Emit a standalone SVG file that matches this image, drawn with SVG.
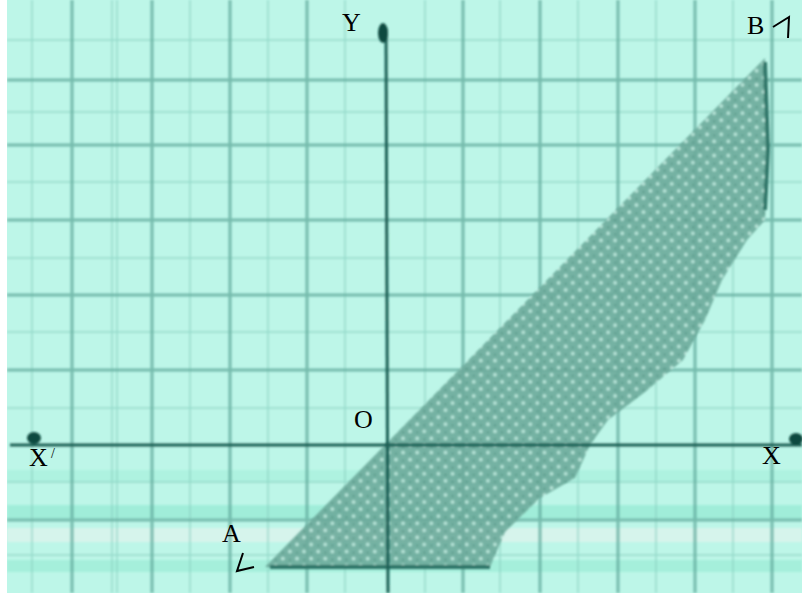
<svg xmlns="http://www.w3.org/2000/svg" width="802" height="593" viewBox="0 0 802 593">
<defs>
<style>
.minor{stroke:#86cfbf;stroke-width:1.5;opacity:0.7}
.major{stroke:#5ea99a;stroke-width:3;opacity:0.75}
.axis{stroke:#1f5f55;stroke-width:3}
.lbl{font-family:"Liberation Serif",serif;font-size:26px;fill:#000}
.mark{fill:none;stroke:#000;stroke-width:2}
</style>
<filter id="soft" x="-5%" y="-5%" width="110%" height="110%"><feGaussianBlur stdDeviation="1.2"/></filter>
<pattern id="dots" width="10" height="10" patternUnits="userSpaceOnUse" patternTransform="rotate(45)">
<rect width="10" height="10" fill="#6dab9b"/>
<circle cx="5" cy="5" r="1.8" fill="#c4ede2"/>
<circle cx="0" cy="0" r="1.6" fill="#2f7466"/>
</pattern>
</defs>
<rect width="802" height="593" fill="#bdf6e8"/>
<g id="bands" opacity="0.6" filter="url(#soft)">
<rect x="7" y="470" width="795" height="12" fill="#a5f0dc"/>
<rect x="7" y="505" width="795" height="14" fill="#8ee8d0"/>
<rect x="7" y="528" width="795" height="14" fill="#e8f3ef"/>
<rect x="7" y="560" width="795" height="12" fill="#96ebd3"/>
</g>
<g id="grid" filter="url(#soft)">
<g class="minor">
<line x1="32" y1="0" x2="32" y2="593"/><line x1="112" y1="0" x2="112" y2="593"/><line x1="117" y1="0" x2="117" y2="593"/>
<line x1="190" y1="0" x2="190" y2="593"/><line x1="268" y1="0" x2="268" y2="593"/><line x1="345" y1="0" x2="345" y2="593"/>
<line x1="425" y1="0" x2="425" y2="593"/><line x1="500" y1="0" x2="500" y2="593"/><line x1="578" y1="0" x2="578" y2="593"/>
<line x1="656" y1="0" x2="656" y2="593"/><line x1="733" y1="0" x2="733" y2="593"/>
<line x1="7" y1="40" x2="802" y2="40"/><line x1="7" y1="112" x2="802" y2="112"/><line x1="7" y1="182" x2="802" y2="182"/>
<line x1="7" y1="258" x2="802" y2="258"/><line x1="7" y1="332" x2="802" y2="332"/><line x1="7" y1="408" x2="802" y2="408"/>
<line x1="7" y1="482" x2="802" y2="482"/><line x1="7" y1="555" x2="802" y2="555"/>
</g>
<g class="major">
<line x1="72" y1="0" x2="72" y2="593"/><line x1="152" y1="0" x2="152" y2="593"/><line x1="230" y1="0" x2="230" y2="593"/>
<line x1="307" y1="0" x2="307" y2="593"/><line x1="463" y1="0" x2="463" y2="593"/><line x1="540" y1="0" x2="540" y2="593"/>
<line x1="618" y1="0" x2="618" y2="593"/><line x1="695" y1="0" x2="695" y2="593"/><line x1="772" y1="0" x2="772" y2="593"/>
<line x1="7" y1="80" x2="802" y2="80"/><line x1="7" y1="145" x2="802" y2="145"/><line x1="7" y1="220" x2="802" y2="220"/>
<line x1="7" y1="295" x2="802" y2="295"/><line x1="7" y1="370" x2="802" y2="370"/><line x1="7" y1="520" x2="802" y2="520"/>
</g>
</g>
<rect x="0" y="0" width="7" height="593" fill="#ffffff"/>
<g id="region" filter="url(#soft)">
<polygon points="265,567 765,58 768,150 765,220 747,240 722,280 705,320 683,360 645,392 608,420 590,445 575,478 540,498 505,532 490,567" fill="url(#dots)" opacity="0.9"/>
<polyline points="270,567 490,567" stroke="#2e7567" stroke-width="4" fill="none"/>
<polyline points="765,62 768,150 765,210" stroke="#2e7567" stroke-width="4" fill="none"/>
</g>
<g id="axes" filter="url(#soft)">
<line class="axis" x1="10" y1="445" x2="802" y2="445"/>
<line class="axis" x1="386" y1="28" x2="388" y2="593"/>
<ellipse cx="383" cy="33" rx="5" ry="10" fill="#0f4a40"/>
<ellipse cx="34" cy="438" rx="7" ry="6" fill="#0f4a40"/>
<ellipse cx="796" cy="439" rx="7" ry="6" fill="#0f4a40"/>
</g>
<g id="labels">
<text class="lbl" x="342" y="31">Y</text>
<text class="lbl" x="747" y="34">B</text>
<polyline class="mark" points="773,27 789,17 788,38"/>
<text class="lbl" x="354" y="428">O</text>
<text class="lbl" x="29" y="466">X</text>
<text x="51" y="458" style="font-family:'Liberation Serif',serif;font-size:14px">/</text>
<text class="lbl" x="762" y="464">X</text>
<text class="lbl" x="222" y="542">A</text>
<polyline class="mark" points="243,553 237,571 254,567"/>
</g>
</svg>
